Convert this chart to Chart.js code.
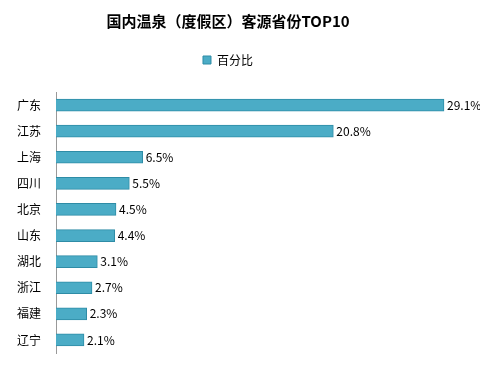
<!DOCTYPE html>
<html>
<head>
<meta charset="utf-8">
<script src="https://cdn.jsdelivr.net/npm/chart.js@4/dist/chart.umd.min.js"></script>
<style>
  html, body { margin: 0; padding: 0; background: #fff; }
  #wrap { width: 480px; height: 371px; }
</style>
</head>
<body>
<div id="wrap"><canvas id="chart"></canvas></div>
<script>
const provinces = ['广东', '江苏', '上海', '四川', '北京', '山东', '湖北', '浙江', '福建', '辽宁'];
const shareValues = [29.1, 20.8, 6.5, 5.5, 4.5, 4.4, 3.1, 2.7, 2.3, 2.1];
const seriesName = '百分比';
const chartTitle = '国内温泉（度假区）客源省份TOP10';

const font = '"Noto Sans CJK SC", "Noto Sans", sans-serif';

// draw the value labels at the end of each bar
const valueLabels = {
  id: 'valueLabels',
  afterDatasetsDraw(chart) {
    const ctx = chart.ctx;
    const meta = chart.getDatasetMeta(0);
    ctx.save();
    ctx.font = '12px ' + font;
    ctx.fillStyle = '#000';
    ctx.textBaseline = 'middle';
    ctx.textAlign = 'left';
    meta.data.forEach((bar, i) => {
      ctx.fillText(shareValues[i].toFixed(1) + '%', bar.x + 3, bar.y);
    });
    ctx.restore();
  }
};

// extra room under the legend
const legendGap = {
  id: 'legendGap',
  beforeInit(chart) {
    const fit = chart.legend.fit;
    chart.legend.fit = function () {
      fit.bind(chart.legend)();
      this.height += 16;
    };
  }
};

const ctx = document.getElementById('chart').getContext('2d');
new Chart(ctx, {
  type: 'bar',
  data: {
    labels: provinces,
    datasets: [{
      label: seriesName,
      data: shareValues,
      backgroundColor: '#4BACC6',
      borderColor: '#2E8CA6',
      borderWidth: 1,
      barThickness: 12,
    }],
  },
  options: {
    indexAxis: 'y',
    responsive: true,
    maintainAspectRatio: false,
    animation: false,
    layout: {
      padding: { left: 0, right: 24, top: 10, bottom: 18 },
    },
    plugins: {
      title: {
        display: true,
        text: chartTitle,
        color: '#000',
        font: { family: font, size: 15, weight: 'bold' },
        padding: { top: 2, bottom: 14 },
      },
      legend: {
        display: true,
        position: 'top',
        labels: {
          boxWidth: 8,
          boxHeight: 8,
          color: '#000',
          font: { family: font, size: 12 },
          padding: 10,
        },
      },
      tooltip: { enabled: false },
    },
    scales: {
      x: {
        display: false,
        min: 0,
        max: 30,
      },
      y: {
        afterFit(scale) { scale.width = 56; },
        grid: { display: false },
        border: { display: true, color: '#999', width: 1 },
        ticks: {
          color: '#000',
          font: { family: font, size: 12 },
          padding: 7,
        },
      },
    },
  },
  plugins: [valueLabels, legendGap],
});
</script>
</body>
</html>
